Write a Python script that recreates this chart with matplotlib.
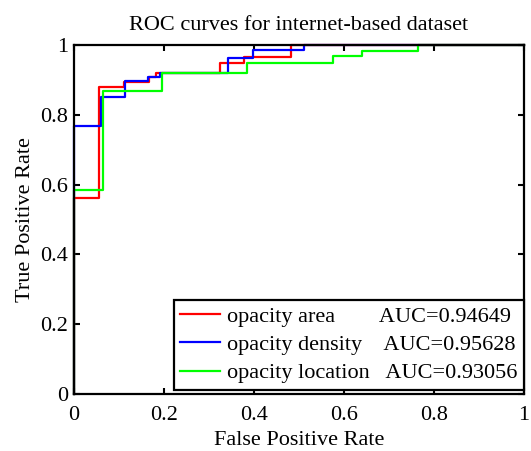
import matplotlib
matplotlib.use('Agg')
import matplotlib.pyplot as plt

plt.rcParams['font.family'] = ['Liberation Serif', 'DejaVu Serif']
plt.rcParams['font.size'] = 16

# ROC points (false positive rate, true positive rate)
area_fpr = [0, 0, 0.056, 0.111, 0.167, 0.183, 0.324, 0.378, 0.483, 1.0]
area_tpr = [0, 0.563, 0.879, 0.893, 0.907, 0.919, 0.947, 0.966, 1.0, 1.0]

density_fpr = [0, 0, 0.059, 0.113, 0.165, 0.191, 0.343, 0.398, 0.51, 1.0]
density_tpr = [0, 0.768, 0.852, 0.898, 0.909, 0.919, 0.962, 0.985, 1.0, 1.0]

location_fpr = [0, 0, 0.065, 0.195, 0.385, 0.576, 0.639, 0.765, 1.0]
location_tpr = [0, 0.585, 0.869, 0.921, 0.949, 0.968, 0.984, 1.0, 1.0]

names = ['opacity area', 'opacity density', 'opacity location']
aucs = ['0.94649', '0.95628', '0.93056']
pads = [' ' * 8, ' ' * 4, ' ' * 3]
colors = ['#ff0000', '#0000ff', '#00ff00']

fig = plt.figure(figsize=(5.31, 4.51), dpi=100)
ax = fig.add_axes([74 / 531, 57 / 451, 450 / 531, 349 / 451])

curves = [(area_fpr, area_tpr), (density_fpr, density_tpr), (location_fpr, location_tpr)]
for (fx, ty), name, auc, pad, c in zip(curves, names, aucs, pads, colors):
    ax.plot(fx, ty, drawstyle='steps-post', color=c, linewidth=1.6,
            label=name + pad + 'AUC=' + auc, clip_on=False)

ax.set_xlim(0, 1)
ax.set_ylim(0, 1)
ax.set_xticks([0, 0.2, 0.4, 0.6, 0.8, 1])
ax.set_xticklabels(['0', '0.2', '0.4', '0.6', '0.8', '1'])
ax.set_yticks([0, 0.2, 0.4, 0.6, 0.8, 1])
ax.set_yticklabels(['0', '0.2', '0.4', '0.6', '0.8', '1'])
ax.tick_params(direction='in', length=4, width=1.5, top=True, right=True)
ax.tick_params(axis='x', pad=9)
ax.tick_params(axis='y', pad=4)
for s in ax.spines.values():
    s.set_linewidth(1.6)

ax.set_xlabel('False Positive Rate', labelpad=4)
ax.set_ylabel('True Positive Rate', labelpad=4)
ax.set_title('ROC curves for internet-based dataset', fontsize=16, pad=11)

leg = ax.legend(loc='lower right', bbox_to_anchor=(1.0, 0.011), borderaxespad=0,
                fancybox=False, framealpha=1, edgecolor='black',
                handlelength=1.8, handletextpad=0.3, labelspacing=0.35,
                borderpad=0.3)
leg.get_frame().set_linewidth(1.6)

fig.savefig('out.png', dpi=100)
